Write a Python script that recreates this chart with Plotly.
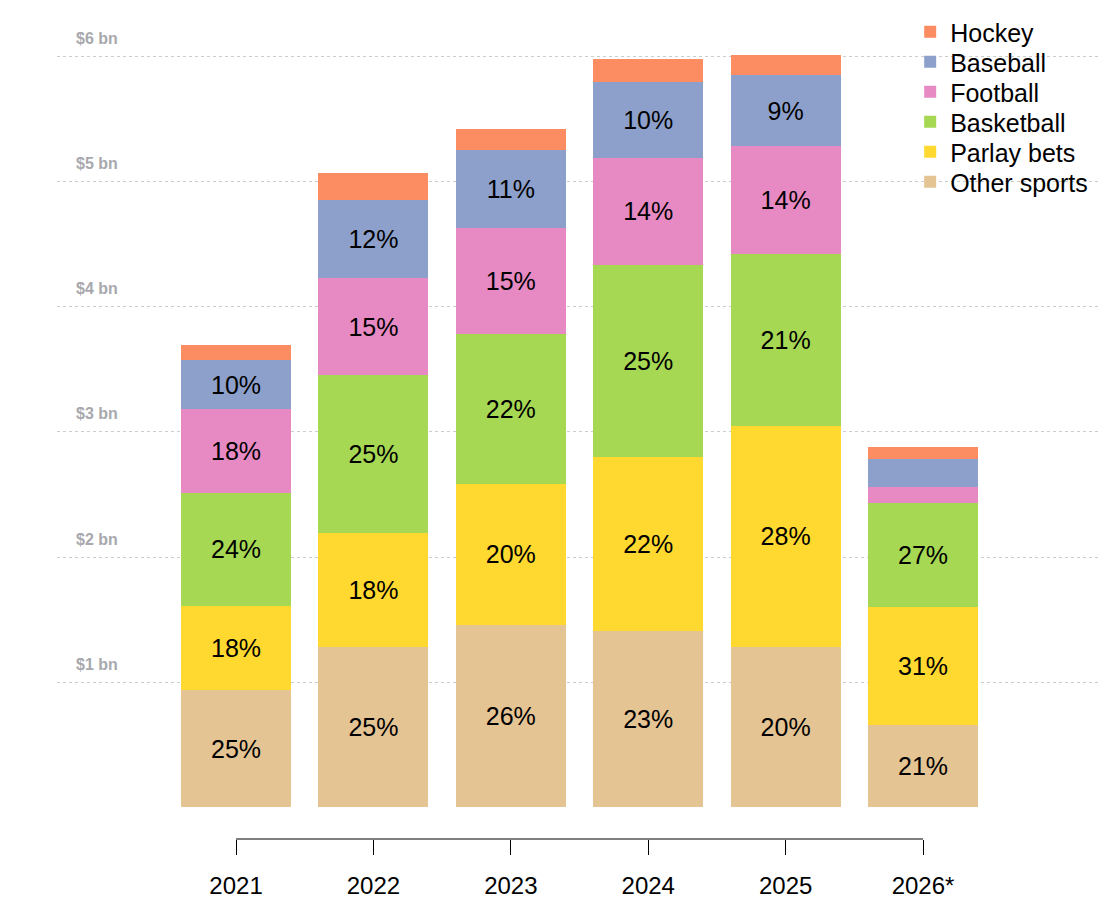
import plotly.graph_objects as go

years = ["2021", "2022", "2023", "2024", "2025", "2026*"]

# revenue by segment, $ bn
other_sports = [0.94, 1.28, 1.46, 1.41, 1.28, 0.66]
parlay_bets = [0.67, 0.91, 1.12, 1.39, 1.77, 0.94]
basketball = [0.90, 1.26, 1.20, 1.53, 1.37, 0.83]
football = [0.67, 0.78, 0.85, 0.86, 0.86, 0.13]
baseball = [0.39, 0.62, 0.62, 0.60, 0.57, 0.22]
hockey = [0.12, 0.22, 0.17, 0.19, 0.16, 0.10]

# share labels as printed on the bars
other_pct = ["25%", "25%", "26%", "23%", "20%", "21%"]
parlay_pct = ["18%", "18%", "20%", "22%", "28%", "31%"]
basketball_pct = ["24%", "25%", "22%", "25%", "21%", "27%"]
football_pct = ["18%", "15%", "15%", "14%", "14%", ""]
baseball_pct = ["10%", "12%", "11%", "10%", "9%", ""]
hockey_pct = ["", "", "", "", "", ""]

y_ticks = [1, 2, 3, 4, 5, 6]

series = [
    ("Other sports", other_sports, other_pct, "#E5C494"),
    ("Parlay bets", parlay_bets, parlay_pct, "#FFD92F"),
    ("Basketball", basketball, basketball_pct, "#A6D854"),
    ("Football", football, football_pct, "#E78AC3"),
    ("Baseball", baseball, baseball_pct, "#8DA0CB"),
    ("Hockey", hockey, hockey_pct, "#FC8D62"),
]

FONT = "Liberation Sans, Arial, sans-serif"
H, T, B = 900, 10, 61

fig = go.Figure()
legend_layout = {}
for i, (name, vals, pct, color) in enumerate(series):
    # one legend per item so the rows sit 30px apart, hockey on top
    key = "legend" if i == 0 else f"legend{i + 1}"
    row_px = 32 + 30 * (len(series) - 1 - i)
    legend_layout[key] = dict(
        x=0.818, xanchor="left", y=1 - (row_px - T) / (H - T - B), yanchor="middle",
        font=dict(size=25, family=FONT), bgcolor="rgba(0,0,0,0)",
    )
    fig.add_trace(go.Bar(
        x=years, y=vals, name=name, text=pct, legend=key, showlegend=True,
        marker=dict(color=color, line=dict(width=0)),
        textposition="inside", insidetextanchor="middle", textangle=0,
        textfont=dict(size=25, color="black", family=FONT),
    ))

# bottom axis line running from first to last year
fig.add_shape(type="line", xref="x", yref="paper", x0=0, x1=len(years) - 1,
              y0=0, y1=0, line=dict(color="black", width=1))

for v in y_ticks:
    fig.add_annotation(text=f"<b>${v} bn</b>", xref="paper", yref="y",
                       x=0.016, y=v, yshift=18, xanchor="left", yanchor="middle",
                       showarrow=False, font=dict(size=16, color="#a8a8ad", family=FONT))

fig.update_layout(
    barmode="stack", bargap=0.2, showlegend=True,
    width=1100, height=H,
    margin=dict(l=57, r=0, t=T, b=B),
    plot_bgcolor="white", paper_bgcolor="white",
    font=dict(family=FONT, color="black"),
    xaxis=dict(type="category", range=[-1.303, 6.288], showgrid=False, showline=False,
               zeroline=False, ticks="outside", ticklen=15, tickcolor="black", tickwidth=1,
               ticklabelstandoff=10, tickfont=dict(size=24, family=FONT, color="black")),
    yaxis=dict(range=[-0.2524, 6.369], tickvals=y_ticks, showticklabels=False,
               showgrid=True, gridcolor="#cccccc", griddash="dot", gridwidth=1,
               zeroline=False, showline=False),
    **legend_layout,
)

fig.write_html("out.html", config={"displayModeBar": False},
               post_script="document.body.style.margin = '0';")
